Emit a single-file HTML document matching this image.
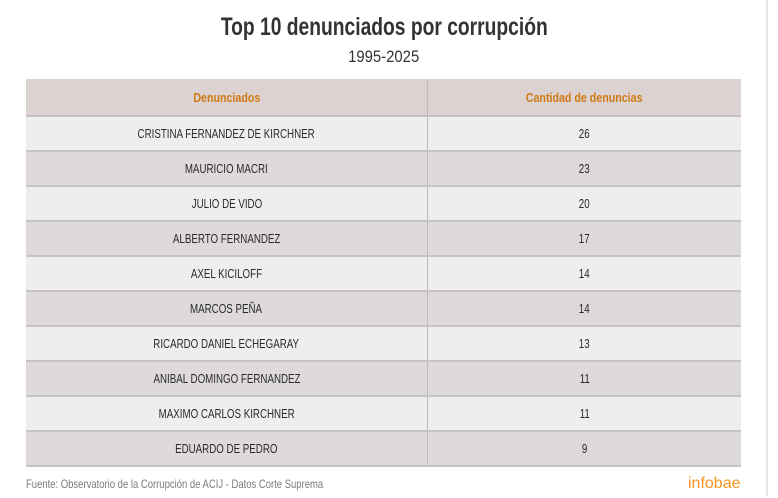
<!DOCTYPE html>
<html>
<head>
<meta charset="utf-8">
<style>
  html,body{margin:0;padding:0;background:#fff;}
  body{width:778px;height:498px;position:relative;overflow:hidden;font-family:"Liberation Sans",sans-serif;}
  .vline{position:absolute;left:766px;top:0;width:2px;height:496px;background:#e6e6e6;}
  .title{position:absolute;left:0;width:768px;top:13px;text-align:center;font-size:25px;font-weight:bold;color:#333;}
  .sub{position:absolute;left:0;width:768px;top:47px;text-align:center;font-size:17px;color:#333;}
  .s{display:inline-block;transform-origin:50% 50%;white-space:nowrap;}
  .title .s{transform:scaleX(0.77);}
  .sub .s{transform:scaleX(0.875);}
  .tbl{position:absolute;left:26px;top:79px;width:715px;}
  .row{position:relative;height:33px;border-bottom:2px solid #c6c3c2;display:flex;align-items:center;font-size:13px;color:#2a2a2a;}
  .row.h{height:36px;background:#dbd2d1;color:#d07a14;font-weight:bold;font-size:13px;border-bottom:2px solid #c4bebd;}
  .row.o{background:#eeeeee;}
  .row.e{background:#dddad9;}
  .row .s{transform:scaleX(0.75);}
  .row.h .s{transform:scaleX(0.82);}
  .c1{width:401px;text-align:center;height:100%;display:flex;align-items:center;justify-content:center;border-right:1px solid #bdbaba;}
  .c2{flex:1;text-align:center;height:100%;display:flex;align-items:center;justify-content:center;}
  .foot{position:absolute;left:26px;top:477px;font-size:12px;color:#7a7a7a;}
  .foot .s{transform-origin:0 50%;transform:scaleX(0.79);}
  .logo{position:absolute;left:688px;top:475px;font-size:16px;color:#f5941f;}
</style>
</head>
<body>
<div class="vline"></div>
<div class="title"><span class="s">Top 10 denunciados por corrupción</span></div>
<div class="sub"><span class="s">1995-2025</span></div>
<div class="tbl">
  <div class="row h"><div class="c1"><span class="s">Denunciados</span></div><div class="c2"><span class="s">Cantidad de denuncias</span></div></div>
  <div class="row o"><div class="c1"><span class="s">CRISTINA FERNANDEZ DE KIRCHNER</span></div><div class="c2"><span class="s">26</span></div></div>
  <div class="row e"><div class="c1"><span class="s">MAURICIO MACRI</span></div><div class="c2"><span class="s">23</span></div></div>
  <div class="row o"><div class="c1"><span class="s">JULIO DE VIDO</span></div><div class="c2"><span class="s">20</span></div></div>
  <div class="row e"><div class="c1"><span class="s">ALBERTO FERNANDEZ</span></div><div class="c2"><span class="s">17</span></div></div>
  <div class="row o"><div class="c1"><span class="s">AXEL KICILOFF</span></div><div class="c2"><span class="s">14</span></div></div>
  <div class="row e"><div class="c1"><span class="s">MARCOS PEÑA</span></div><div class="c2"><span class="s">14</span></div></div>
  <div class="row o"><div class="c1"><span class="s">RICARDO DANIEL ECHEGARAY</span></div><div class="c2"><span class="s">13</span></div></div>
  <div class="row e"><div class="c1"><span class="s">ANIBAL DOMINGO FERNANDEZ</span></div><div class="c2"><span class="s">11</span></div></div>
  <div class="row o"><div class="c1"><span class="s">MAXIMO CARLOS KIRCHNER</span></div><div class="c2"><span class="s">11</span></div></div>
  <div class="row e"><div class="c1"><span class="s">EDUARDO DE PEDRO</span></div><div class="c2"><span class="s">9</span></div></div>
</div>
<div class="foot"><span class="s">Fuente: Observatorio de la Corrupción de ACIJ - Datos Corte Suprema</span></div>
<div class="logo">infobae</div>
</body>
</html>
